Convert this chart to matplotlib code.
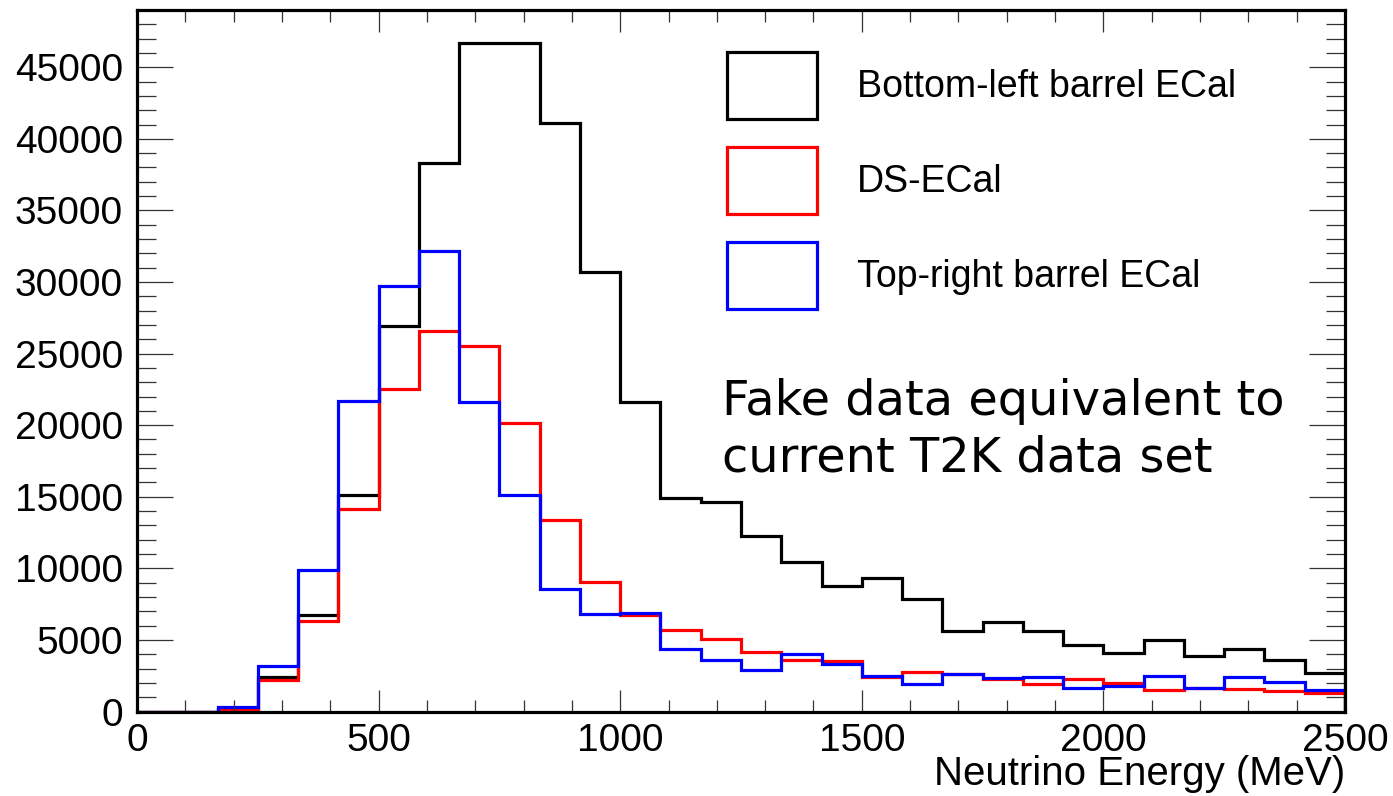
import numpy as np
import matplotlib
matplotlib.use("Agg")
import matplotlib.pyplot as plt
from matplotlib.patches import Patch
from matplotlib.ticker import MultipleLocator

# 30 bins from 0 to 2500 MeV
bin_edges = np.linspace(0, 2500, 31)

bottom_left = [0, 0, 200, 2430, 6750, 15130, 26950, 38300, 46700, 46700,
               41080, 30680, 21650, 14920, 14620, 12250, 10430, 8800, 9300, 7850,
               5640, 6230, 5640, 4640, 4070, 5000, 3910, 4380, 3630, 2680]
ds_ecal = [0, 0, 150, 2200, 6310, 14160, 22500, 26560, 25540, 20180,
           13400, 9050, 6770, 5660, 5050, 4170, 3630, 3550, 2430, 2780,
           2600, 2270, 1920, 2270, 1980, 1520, 1660, 1560, 1420, 1280]
top_right = [0, 0, 314, 3180, 9890, 21720, 29730, 32140, 21630, 15100,
             8540, 6840, 6870, 4350, 3630, 2910, 3990, 3320, 2500, 1920,
             2620, 2360, 2430, 1620, 1770, 2510, 1660, 2400, 2030, 1470]

labels = ["Bottom-left barrel ECal", "DS-ECal", "Top-right barrel ECal"]
colors = ["black", "#ff0000", "#0000ff"]

plt.rcParams['font.family'] = ['Liberation Sans', 'DejaVu Sans']

fig = plt.figure(figsize=(13.93, 7.96), dpi=100)
ax = fig.add_axes([137 / 1393, 84.5 / 796, 1208 / 1393, 701.5 / 796])

for vals, col in zip([bottom_left, ds_ecal, top_right], colors):
    ax.stairs(vals, bin_edges, color=col, linewidth=2.3)

ax.set_xlim(0, 2500)
ax.set_ylim(0, 49000)

# ROOT-like ticks on all sides, pointing inward
ax.xaxis.set_major_locator(MultipleLocator(500))
ax.xaxis.set_minor_locator(MultipleLocator(100))
ax.yaxis.set_major_locator(MultipleLocator(5000))
ax.yaxis.set_minor_locator(MultipleLocator(1000))
ax.tick_params(axis='x', which='major', direction='in', top=True, length=16,
               width=0.9, color='#333333', labelsize=28, pad=8)
ax.tick_params(axis='x', which='minor', direction='in', top=True, length=8.5,
               width=0.9, color='#333333')
ax.tick_params(axis='y', which='major', direction='in', right=True, length=26,
               width=0.9, color='#333333', labelsize=28, pad=10)
ax.tick_params(axis='y', which='minor', direction='in', right=True, length=13.5,
               width=0.9, color='#333333')
for sp in ax.spines.values():
    sp.set_linewidth(2.3)

ax.set_xlabel("Neutrino Energy (MeV)", fontsize=29)
ax.xaxis.set_label_coords(1.0, -0.105)
ax.xaxis.label.set_horizontalalignment('right')
ax.xaxis.label.set_verticalalignment('baseline')

handles = [Patch(facecolor='none', edgecolor=c, linewidth=2.3) for c in colors]
ax.legend(handles, labels, loc='upper left', bbox_to_anchor=(0.488, 0.94),
          frameon=False, fontsize=27, borderpad=0, borderaxespad=0,
          handlelength=2.4, handleheight=2.37, labelspacing=0.75,
          handletextpad=1.07)

ax.text(0.4843, 0.4227, "Fake data equivalent to", transform=ax.transAxes,
        fontsize=34.5, family='DejaVu Sans', va='baseline', ha='left')
ax.text(0.4843, 0.3418, "current T2K data set", transform=ax.transAxes,
        fontsize=34.5, family='DejaVu Sans', va='baseline', ha='left')

fig.savefig("out.png", dpi=100)
